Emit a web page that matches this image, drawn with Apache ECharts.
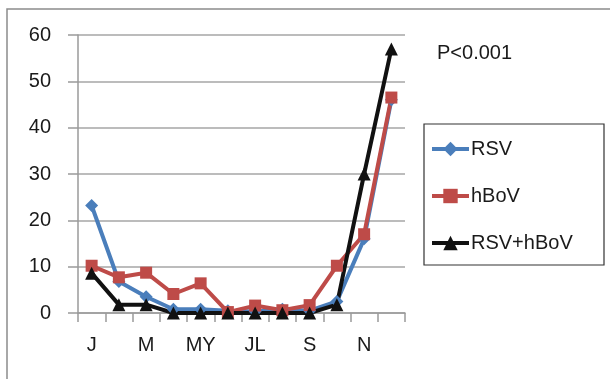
<!DOCTYPE html>
<html>
<head>
<meta charset="utf-8">
<script src="https://cdn.jsdelivr.net/npm/echarts@6/dist/echarts.min.js"></script>
<style>
  html, body { margin: 0; padding: 0; background: #ffffff; }
  #chart { width: 610px; height: 379px; }
</style>
</head>
<body>
<div id="chart"></div>
<script>
// Monthly distribution of detections
const months = ['J', 'F', 'M', 'A', 'MY', 'JN', 'JL', 'AU', 'S', 'O', 'N', 'D'];
const rsv      = [23.2, 6.8, 3.5, 0.8, 0.8, 0.5, 0.3, 0.8, 0.5, 2.5, 16, 46];
const hbov     = [10.2, 7.7, 8.7, 4.1, 6.4, 0.2, 1.6, 0.6, 1.7, 10.2, 17, 46.5];
const rsvHbov  = [8.6, 1.8, 1.8, 0, 0, 0, 0, 0, 0, 1.8, 30, 57];
const yTicks   = { min: 0, max: 60, step: 10 };
const noteText = 'P<0.001';

const FONT = '"Liberation Sans", Arial, sans-serif';
const chart = echarts.init(document.getElementById('chart'), null, { renderer: 'canvas' });

function lineSeries(name, data, color, symbol, size) {
  return {
    name: name,
    type: 'line',
    data: data,
    symbol: symbol,
    symbolSize: size,
    showAllSymbol: true,
    lineStyle: { color: color, width: 4 },
    itemStyle: { color: color },
    emphasis: { disabled: true },
    animation: false
  };
}

chart.setOption({
  backgroundColor: '#ffffff',
  animation: false,
  textStyle: { fontFamily: FONT },
  grid: { left: 78, right: 205, top: 35, bottom: 66, containLabel: false },
  xAxis: {
    type: 'category',
    data: months,
    boundaryGap: true,
    axisLine: { show: true, lineStyle: { color: '#9a9a9a', width: 1.5 } },
    axisTick: { show: true, alignWithLabel: false, interval: 0, length: 9, lineStyle: { color: '#9a9a9a', width: 1.5 } },
    axisLabel: { interval: 1, margin: 22, fontSize: 20, color: '#1a1a1a', fontFamily: FONT },
    splitLine: { show: false }
  },
  yAxis: {
    type: 'value',
    min: yTicks.min,
    max: yTicks.max,
    interval: yTicks.step,
    axisLine: { show: true, lineStyle: { color: '#9a9a9a', width: 1.5 } },
    axisTick: { show: true, length: 10, lineStyle: { color: '#9a9a9a', width: 1.5 } },
    axisLabel: { margin: 27, fontSize: 20, color: '#1a1a1a', fontFamily: FONT },
    splitLine: { show: true, lineStyle: { color: '#a6a6a6', width: 1.5 } }
  },
  legend: {
    orient: 'vertical',
    left: 430,
    top: 139,
    padding: 0,
    itemGap: 27,
    itemWidth: 37,
    itemHeight: 18,
    lineStyle: { width: 4 },
    textStyle: { fontSize: 20, lineHeight: 20, color: '#1a1a1a', fontFamily: FONT, padding: [0, 0, 0, -3] },
    data: ['RSV', 'hBoV', 'RSV+hBoV']
  },
  graphic: [
    {
      type: 'rect',
      shape: { x: 7, y: 9, width: 640, height: 400 },
      style: { fill: 'none', stroke: '#8c8c8c', lineWidth: 1.5 },
      silent: true, z: -1
    },
    {
      type: 'rect',
      shape: { x: 424, y: 124, width: 180, height: 141 },
      style: { fill: 'none', stroke: '#333333', lineWidth: 1.2 },
      silent: true
    },
    {
      type: 'text',
      left: 437,
      top: 43,
      style: { text: noteText, fontSize: 20, fill: '#1a1a1a', fontFamily: FONT },
      silent: true
    }
  ],
  series: [
    lineSeries('RSV', rsv, '#4a7ebb', 'diamond', 13),
    lineSeries('hBoV', hbov, '#be4b48', 'rect', 12),
    lineSeries('RSV+hBoV', rsvHbov, '#111111', 'triangle', 13)
  ]
});
</script>
</body>
</html>
